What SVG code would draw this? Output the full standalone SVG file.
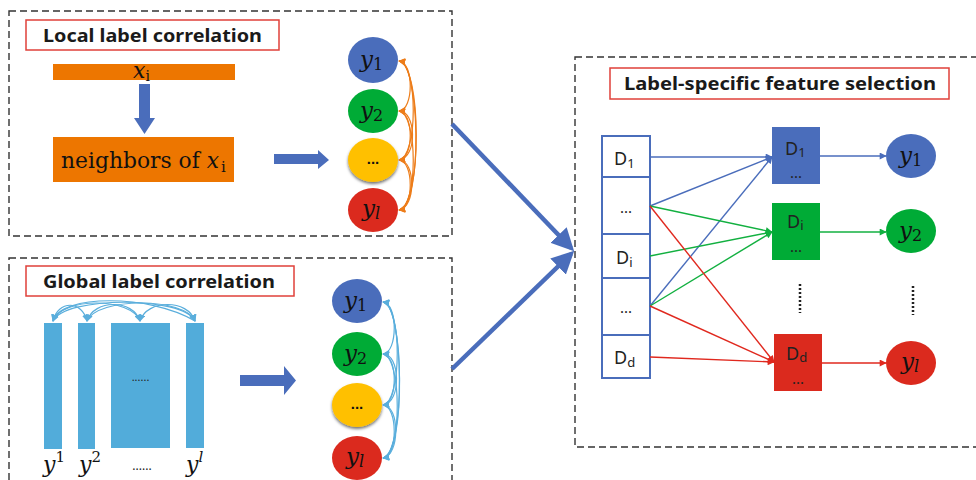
<svg xmlns="http://www.w3.org/2000/svg" width="976" height="480" viewBox="0 0 976 480">
  <style>
    .frame { fill: none; stroke: #333; stroke-width: 1.4; stroke-dasharray: 7 4; }
    .title-box { fill: #fff; stroke: #E0403A; stroke-width: 1.5; }
    .title { font-family: "Noto Sans", "Liberation Sans", sans-serif; font-weight: bold; font-size: 17px; fill: #1a1a1a; }
    .math { font-family: "DejaVu Serif", "Liberation Serif", serif; fill: #111; }
    .mi { font-style: italic; }
    .dtext { font-family: "Noto Sans", "Liberation Sans", sans-serif; fill: #222; }
    .dots { font-family: "Liberation Sans", sans-serif; font-weight: bold; fill: #111; }
    .orange-link { fill: none; stroke: #ED7D1A; stroke-width: 1.2; }
    .sky-link { fill: none; stroke: #5AAEDC; stroke-width: 1.2; }
    .blue-fill { fill: #4A6DBB; }
    .green-fill { fill: #00AB36; }
    .yellow-fill { fill: #FFC000; }
    .red-fill { fill: #DB2A1E; }
    .cell { fill: #fff; stroke: #4A6DBB; stroke-width: 2; }
    .wire-b { stroke: #4A6DBB; stroke-width: 1.4; fill: none; }
    .wire-g { stroke: #12B040; stroke-width: 1.4; fill: none; }
    .wire-r { stroke: #E0281E; stroke-width: 1.4; fill: none; }
  </style>
  <defs>
    <marker id="headOrange" viewBox="0 0 10 10" refX="9" refY="5" markerWidth="7" markerHeight="7" markerUnits="userSpaceOnUse" orient="auto-start-reverse">
      <path d="M0,0 L10,5 L0,10 z" fill="#ED7D1A"/>
    </marker>
    <marker id="headSky" viewBox="0 0 10 10" refX="9" refY="5" markerWidth="7" markerHeight="7" markerUnits="userSpaceOnUse" orient="auto-start-reverse">
      <path d="M0,0 L10,5 L0,10 z" fill="#5AAEDC"/>
    </marker>
    <marker id="headB" viewBox="0 0 10 10" refX="9" refY="5" markerWidth="8" markerHeight="7" markerUnits="userSpaceOnUse" orient="auto">
      <path d="M0,0 L10,5 L0,10 z" fill="#4A6DBB"/>
    </marker>
    <marker id="headG" viewBox="0 0 10 10" refX="9" refY="5" markerWidth="8" markerHeight="7" markerUnits="userSpaceOnUse" orient="auto">
      <path d="M0,0 L10,5 L0,10 z" fill="#12B040"/>
    </marker>
    <marker id="headR" viewBox="0 0 10 10" refX="9" refY="5" markerWidth="8" markerHeight="7" markerUnits="userSpaceOnUse" orient="auto">
      <path d="M0,0 L10,5 L0,10 z" fill="#E0281E"/>
    </marker>
    <marker id="headBig" viewBox="0 0 10 10" refX="8" refY="5" markerWidth="5" markerHeight="5" orient="auto">
      <path d="M0,0 L10,5 L0,10 z" fill="#4A6DBB"/>
    </marker>
    <filter id="shadow" x="-30%" y="-30%" width="160%" height="170%">
      <feDropShadow dx="0" dy="2" stdDeviation="1.6" flood-color="#000" flood-opacity="0.55"/>
    </filter>
  </defs>

  <!-- Panel frames -->
  <g id="frames">
    <rect class="frame" x="9" y="11" width="443" height="225"/>
    <rect class="frame" x="9" y="258" width="443" height="240"/>
    <rect class="frame" x="575" y="57" width="420" height="390"/>
  </g>

  <!-- Local label correlation panel -->
  <g id="local-title">
    <rect class="title-box" x="26" y="20" width="253" height="30"/>
    <text class="title" x="43" y="42" textLength="219" lengthAdjust="spacingAndGlyphs">Local label correlation</text>
  </g>
  <g id="local-xi">
    <rect x="53" y="64" width="182" height="16" fill="#ED7600"/>
    <text class="math" x="133" y="78" font-size="22"><tspan class="mi">x</tspan><tspan font-size="14" dy="3">i</tspan></text>
  </g>
  <g id="local-down-arrow">
    <path d="M139,84 H150 V118 H155 L144.5,134 L134,118 H139 Z" class="blue-fill"/>
  </g>
  <g id="local-neighbors">
    <rect x="53" y="137" width="181" height="45" fill="#ED7600"/>
    <text class="math" x="61" y="168" font-size="22" textLength="158" lengthAdjust="spacingAndGlyphs">neighbors of <tspan class="mi">x</tspan></text>
    <text class="math" x="221" y="172" font-size="15">i</text>
  </g>
  <g id="local-right-arrow">
    <path d="M274,154 H318 V150 L329,160 L318,169 V164 H274 Z" class="blue-fill"/>
  </g>
  <g id="local-y1">
    <ellipse cx="373" cy="60" rx="25" ry="23" class="blue-fill"/>
    <text class="math" x="360" y="67" font-size="23"><tspan class="mi">y</tspan><tspan font-size="16" dy="3">1</tspan></text>
  </g>
  <g id="local-y2">
    <ellipse cx="373" cy="111" rx="25" ry="22" class="green-fill"/>
    <text class="math" x="360" y="118" font-size="23"><tspan class="mi">y</tspan><tspan font-size="16" dy="3">2</tspan></text>
  </g>
  <g id="local-ydots">
    <ellipse cx="373" cy="160" rx="25" ry="22" class="yellow-fill" filter="url(#shadow)"/>
    <text class="dots" x="373" y="164" font-size="15" text-anchor="middle">...</text>
  </g>
  <g id="local-yl">
    <ellipse cx="373" cy="210" rx="25" ry="22" class="red-fill"/>
    <text class="math" x="362" y="216" font-size="23"><tspan class="mi">y</tspan><tspan class="mi" font-size="16" dy="3">l</tspan></text>
  </g>

  <!-- Global label correlation panel -->
  <g id="global-title">
    <rect class="title-box" x="26" y="266" width="268" height="30"/>
    <text class="title" x="43" y="288" textLength="232" lengthAdjust="spacingAndGlyphs">Global label correlation</text>
  </g>
  <g id="global-bars">
    <rect x="44" y="323" width="18" height="126" fill="#52ACDA"/>
    <rect x="78" y="323" width="17" height="126" fill="#52ACDA"/>
    <rect x="111" y="323" width="59" height="125" fill="#52ACDA"/>
    <rect x="186" y="323" width="18" height="125" fill="#52ACDA"/>
    <text class="dtext" x="140.5" y="381" font-size="11" text-anchor="middle" fill="#222">......</text>
  </g>
  <g id="global-bar-labels">
    <text class="math" x="43" y="472" font-size="22"><tspan class="mi">y</tspan><tspan font-size="15" dy="-10">1</tspan></text>
    <text class="math" x="79" y="472" font-size="22"><tspan class="mi">y</tspan><tspan font-size="15" dy="-10">2</tspan></text>
    <text class="dtext" x="142" y="470" font-size="12" text-anchor="middle" fill="#222">......</text>
    <text class="math" x="186" y="472" font-size="22"><tspan class="mi">y</tspan><tspan class="mi" font-size="15" dy="-10">l</tspan></text>
  </g>
  <g id="global-right-arrow">
    <path d="M240,375 H284 V366 L296,380.5 L284,395 V386 H240 Z" class="blue-fill"/>
  </g>
  <g id="global-y1">
    <ellipse cx="357" cy="301" rx="25" ry="22" class="blue-fill"/>
    <text class="math" x="344" y="308" font-size="23"><tspan class="mi">y</tspan><tspan font-size="16" dy="3">1</tspan></text>
  </g>
  <g id="global-y2">
    <ellipse cx="357" cy="354" rx="25" ry="22" class="green-fill"/>
    <text class="math" x="344" y="361" font-size="23"><tspan class="mi">y</tspan><tspan font-size="16" dy="3">2</tspan></text>
  </g>
  <g id="global-ydots">
    <ellipse cx="357" cy="405" rx="25" ry="22" class="yellow-fill" filter="url(#shadow)"/>
    <text class="dots" x="357" y="409" font-size="15" text-anchor="middle">...</text>
  </g>
  <g id="global-yl">
    <ellipse cx="357" cy="458" rx="25" ry="22" class="red-fill"/>
    <text class="math" x="346" y="464" font-size="23"><tspan class="mi">y</tspan><tspan class="mi" font-size="16" dy="3">l</tspan></text>
  </g>

  <!-- Label-specific feature selection panel -->
  <g id="selection-title">
    <rect class="title-box" x="610" y="68" width="339" height="31"/>
    <text class="title" x="624" y="90" textLength="312" lengthAdjust="spacingAndGlyphs">Label-specific feature selection</text>
  </g>
  <g id="feature-column">
    <rect class="cell" x="602" y="136" width="48" height="41"/>
    <rect class="cell" x="602" y="177" width="48" height="57"/>
    <rect class="cell" x="602" y="234" width="48" height="44"/>
    <rect class="cell" x="602" y="278" width="48" height="57"/>
    <rect class="cell" x="602" y="335" width="48" height="43"/>
    <text class="dtext" x="614" y="165" font-size="18">D<tspan font-size="13" dy="3">1</tspan></text>
    <text class="dtext" x="626" y="213" font-size="15" text-anchor="middle">...</text>
    <text class="dtext" x="616" y="264" font-size="18">D<tspan font-size="13" dy="3">i</tspan></text>
    <text class="dtext" x="626" y="313" font-size="15" text-anchor="middle">...</text>
    <text class="dtext" x="614" y="364" font-size="18">D<tspan font-size="13" dy="3">d</tspan></text>
  </g>
  <g id="select-d1">
    <rect x="772" y="127" width="48" height="57" class="blue-fill"/>
    <text class="dtext" x="785" y="155" font-size="18">D<tspan font-size="13" dy="2">1</tspan></text>
    <text class="dtext" x="796" y="178" font-size="15" text-anchor="middle">...</text>
  </g>
  <g id="select-di">
    <rect x="772" y="203" width="48" height="57" class="green-fill"/>
    <text class="dtext" x="787" y="228" font-size="18">D<tspan font-size="13" dy="2">i</tspan></text>
    <text class="dtext" x="796" y="252" font-size="15" text-anchor="middle">...</text>
  </g>
  <g id="select-dots">
    <line x1="800" y1="284" x2="800" y2="313" stroke="#222" stroke-width="2.5" stroke-dasharray="2 2"/>
    <line x1="913" y1="286" x2="913" y2="315" stroke="#222" stroke-width="2.5" stroke-dasharray="2 2"/>
  </g>
  <g id="select-dd">
    <rect x="774" y="334" width="48" height="57" class="red-fill"/>
    <text class="dtext" x="786" y="360" font-size="18">D<tspan font-size="13" dy="2">d</tspan></text>
    <text class="dtext" x="798" y="384" font-size="15" text-anchor="middle">...</text>
  </g>
  <g id="out-y1">
    <ellipse cx="911" cy="156" rx="25" ry="22" class="blue-fill"/>
    <text class="math" x="899" y="163" font-size="23"><tspan class="mi">y</tspan><tspan font-size="16" dy="3">1</tspan></text>
  </g>
  <g id="out-y2">
    <ellipse cx="911" cy="231" rx="25" ry="22" class="green-fill"/>
    <text class="math" x="899" y="238" font-size="23"><tspan class="mi">y</tspan><tspan font-size="16" dy="3">2</tspan></text>
  </g>
  <g id="out-yl">
    <ellipse cx="911" cy="363" rx="25" ry="22" class="red-fill"/>
    <text class="math" x="901" y="369" font-size="23"><tspan class="mi">y</tspan><tspan class="mi" font-size="16" dy="3">l</tspan></text>
  </g>

  <!-- Connectors -->
  <g id="connectors">
    <!-- local label pairs -->
    <path class="orange-link" d="M399,61 C414,62 414,110 399,111" marker-start="url(#headOrange)" marker-end="url(#headOrange)"/>
    <path class="orange-link" d="M399,61 C418,64 418,157 399,160" marker-start="url(#headOrange)" marker-end="url(#headOrange)"/>
    <path class="orange-link" d="M399,61 C422,66 422,205 399,210" marker-start="url(#headOrange)" marker-end="url(#headOrange)"/>
    <path class="orange-link" d="M399,61 C419,60 424,205 399,210"/>
    <path class="orange-link" d="M399,111 C414,112 414,159 399,160" marker-start="url(#headOrange)" marker-end="url(#headOrange)"/>
    <path class="orange-link" d="M399,111 C418,114 418,207 399,210" marker-start="url(#headOrange)" marker-end="url(#headOrange)"/>
    <path class="orange-link" d="M399,111 C416,110 418,158 399,160"/>
    <path class="orange-link" d="M399,160 C414,161 414,209 399,210" marker-start="url(#headOrange)" marker-end="url(#headOrange)"/>
    <path class="orange-link" d="M399,160 C416,160 416,208 399,210"/>

    <!-- global label pairs between circles -->
    <path class="sky-link" d="M383,302 C398,303 398,353 383,354" marker-start="url(#headSky)" marker-end="url(#headSky)"/>
    <path class="sky-link" d="M383,302 C402,305 402,402 383,405" marker-start="url(#headSky)" marker-end="url(#headSky)"/>
    <path class="sky-link" d="M383,302 C405,307 405,453 383,458" marker-start="url(#headSky)" marker-end="url(#headSky)"/>
    <path class="sky-link" d="M383,302 C403,301 407,453 383,458"/>
    <path class="sky-link" d="M383,354 C398,355 398,404 383,405" marker-start="url(#headSky)" marker-end="url(#headSky)"/>
    <path class="sky-link" d="M383,354 C402,357 402,455 383,458" marker-start="url(#headSky)" marker-end="url(#headSky)"/>
    <path class="sky-link" d="M383,354 C400,353 402,403 383,405"/>
    <path class="sky-link" d="M383,405 C398,406 398,457 383,458" marker-start="url(#headSky)" marker-end="url(#headSky)"/>
    <path class="sky-link" d="M383,405 C400,405 400,456 383,458"/>

    <!-- global label pairs between bars -->
    <path class="sky-link" d="M53,321 C58,300 82,300 87,321" marker-start="url(#headSky)" marker-end="url(#headSky)"/>
    <path class="sky-link" d="M53,321 C62,297 131,297 140,321" marker-start="url(#headSky)" marker-end="url(#headSky)"/>
    <path class="sky-link" d="M53,321 C65,296 183,296 195,321" marker-start="url(#headSky)" marker-end="url(#headSky)"/>
    <path class="sky-link" d="M87,321 C94,299 133,299 140,321" marker-start="url(#headSky)" marker-end="url(#headSky)"/>
    <path class="sky-link" d="M87,321 C97,297 185,297 195,321" marker-start="url(#headSky)" marker-end="url(#headSky)"/>
    <path class="sky-link" d="M140,321 C147,299 188,299 195,321" marker-start="url(#headSky)" marker-end="url(#headSky)"/>
    <path class="sky-link" d="M53,321 C60,294 150,294 195,321"/>

    <!-- panel-to-panel arrows -->
    <line x1="452" y1="124" x2="571" y2="248" stroke="#4A6DBB" stroke-width="4.5" marker-end="url(#headBig)"/>
    <line x1="452" y1="369" x2="571" y2="254" stroke="#4A6DBB" stroke-width="4.5" marker-end="url(#headBig)"/>

    <!-- features to selected label-specific sets -->
    <line class="wire-b" x1="650" y1="157" x2="772" y2="157" marker-end="url(#headB)"/>
    <line class="wire-b" x1="650" y1="206" x2="772" y2="157" marker-end="url(#headB)"/>
    <line class="wire-b" x1="650" y1="306" x2="772" y2="157" marker-end="url(#headB)"/>
    <line class="wire-g" x1="650" y1="206" x2="772" y2="232" marker-end="url(#headG)"/>
    <line class="wire-g" x1="650" y1="256" x2="772" y2="232" marker-end="url(#headG)"/>
    <line class="wire-g" x1="650" y1="306" x2="772" y2="232" marker-end="url(#headG)"/>
    <line class="wire-r" x1="650" y1="206" x2="774" y2="362" marker-end="url(#headR)"/>
    <line class="wire-r" x1="650" y1="306" x2="774" y2="362" marker-end="url(#headR)"/>
    <line class="wire-r" x1="650" y1="357" x2="774" y2="362" marker-end="url(#headR)"/>

    <!-- selected sets to labels -->
    <line class="wire-b" x1="820" y1="156" x2="886" y2="156" marker-end="url(#headB)"/>
    <line class="wire-g" x1="820" y1="232" x2="886" y2="232" marker-end="url(#headG)"/>
    <line class="wire-r" x1="822" y1="363" x2="886" y2="363" marker-end="url(#headR)"/>
  </g>
</svg>
